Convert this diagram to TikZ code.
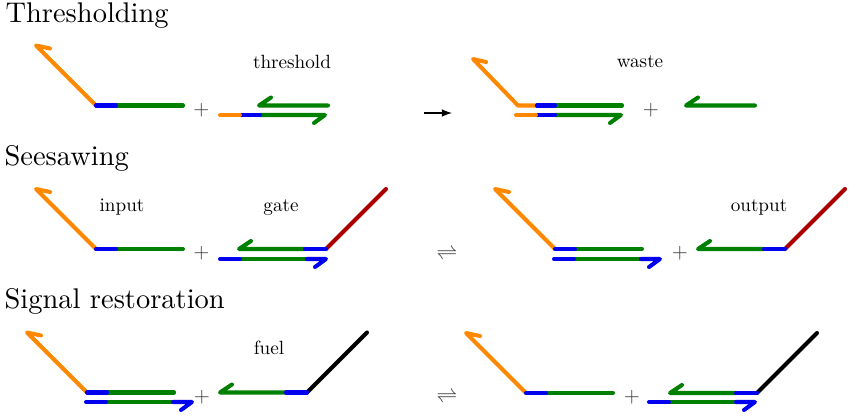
\documentclass[tikz,border=0pt]{standalone}
\definecolor{tailorange}{RGB}{255,136,0}
\definecolor{toeblue}{RGB}{0,0,240}
\definecolor{domgreen}{RGB}{0,128,0}
\definecolor{gatered}{RGB}{170,0,0}
\tikzset{
	strand/.style={line width=2.3pt,line cap=round,line join=round},
	title/.style={anchor=base west,inner sep=0pt,scale=1.62,font=\normalsize},
	species/.style={anchor=base,inner sep=0pt,font=\fontsize{10.9}{13}\selectfont},
	sign/.style={inner sep=0pt,font=\large,text=black!80},
}
% free signal strand: corner at #1, #2 is the y of the strand
\newcommand{\signalstrand}[2]{
	\draw[strand,tailorange] (#1,#2) -- ++(-60,-60) -- ++(14,3);
	\draw[strand,domgreen] (#1+20,#2) -- ++(67,0);
	\draw[strand,toeblue] (#1,#2) -- ++(20,0);
}
% released strand with toehold and tail: corner at #1, #2 is the y, #3 the tail colour
\newcommand{\tailstrand}[3]{
	\draw[strand,#3] (#1,#2) -- ++(60,-60);
	\draw[strand,domgreen] (#1-21,#2) -- (#1-87,#2) -- ++(12,-8);
	\draw[strand,toeblue] (#1,#2) -- ++(-21,0);
}
% bound lower strand: starts at #1, #2 is the y
\newcommand{\lowerstrand}[2]{
	\draw[strand,domgreen] (#1+20,#2) -- ++(67,0);
	\draw[strand,toeblue] (#1+87,#2) -- ++(19,0) -- ++(-11,8);
	\draw[strand,toeblue] (#1,#2) -- ++(20,0);
}
\begin{document}
\begin{tikzpicture}[x=.02cm,y=-.02cm]
	\useasboundingbox (0,0) rectangle (850,416);
	% titles
	\node[title] (thresholding) at (5,22.5) {Thresholding};
	\node[title] (seesawing) at (4,165) {Seesawing};
	\node[title] (restoration) at (4,308) {Signal restoration};
	% species names
	\node[species] (threshold) at (292,68) {threshold};
	\node[species] (waste) at (640,67) {waste};
	\node[species] (input) at (122,211) {input};
	\node[species] (gate) at (281,211) {gate};
	\node[species] (output) at (759,211) {output};
	\node[species] (fuel) at (269,354) {fuel};
	% plus signs
	\foreach \x/\y in {201.5/110,651/110,201.5/253,680/253,202/397,632/397}{
		\node[sign] at (\x,\y) {$+$};
	}
	% reaction arrows
	\coordinate (reactstart) at (424,113);
	\coordinate (reactend) at (452,113);
	\draw[line width=1pt,-latex] (reactstart) -- (reactend);
	\node[sign] (seesawarrow) at (447,254) {$\rightleftharpoons$};
	\node[sign] (fuelarrow) at (447,397) {$\rightleftharpoons$};
	% thresholding
	\signalstrand{96}{105.5}
	\draw[strand,domgreen] (328,105.5) -- (259,105.5) -- ++(12,-8);
	\draw[strand,domgreen] (260,115) -- (325,115) -- ++(-11,8);
	\draw[strand,toeblue] (240,115) -- (260,115);
	\draw[strand,tailorange] (220,115) -- (240,115);
	\draw[strand,tailorange] (537,105.5) -- (518,105.5) -- ++(-45,-46.5) -- ++(13,3);
	\draw[strand,domgreen] (555,105.5) -- (622,105.5);
	\draw[strand,toeblue] (537,105.5) -- (555,105.5);
	\draw[strand,domgreen] (555,115) -- (621,115) -- ++(-11,8);
	\draw[strand,toeblue] (536,115) -- (555,115);
	\draw[strand,tailorange] (516,115) -- (536,115);
	\draw[strand,domgreen] (755,105.5) -- (686,105.5) -- ++(12,-8);
	% seesawing
	\signalstrand{96}{249}
	\tailstrand{326}{249}{gatered}
	\lowerstrand{220}{259}
	\signalstrand{555}{249}
	\lowerstrand{554}{259}
	\tailstrand{785}{249}{gatered}
	% signal restoration
	\signalstrand{87}{392.5}
	\lowerstrand{86}{402}
	\tailstrand{307}{392.5}{black}
	\signalstrand{526}{393}
	\tailstrand{757}{393}{black}
	\lowerstrand{649}{402}
\end{tikzpicture}
\end{document}
